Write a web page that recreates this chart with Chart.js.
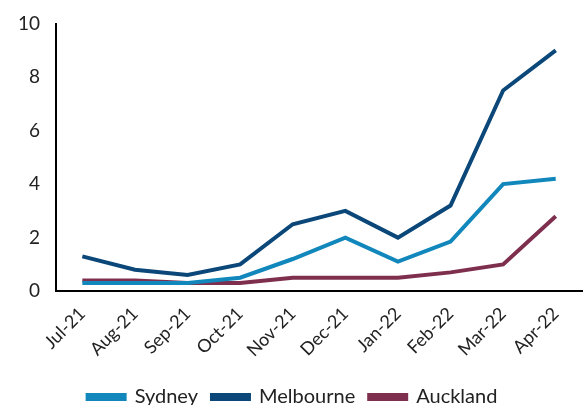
<!DOCTYPE html>
<html>
<head>
<meta charset="utf-8">
<script src="https://cdn.jsdelivr.net/npm/chart.js@4"></script>
<style>
  html, body { margin: 0; padding: 0; background: #fff; }
  #wrap { width: 583px; height: 405px; }
</style>
</head>
<body>
<div id="wrap"><canvas id="chart"></canvas></div>
<script>
// months
var months = ["Jul-21", "Aug-21", "Sep-21", "Oct-21", "Nov-21", "Dec-21", "Jan-22", "Feb-22", "Mar-22", "Apr-22"];
// series
var sydney = [0.3, 0.3, 0.3, 0.5, 1.2, 2.0, 1.1, 1.85, 4.0, 4.2];
var melbourne = [1.3, 0.8, 0.6, 1.0, 2.5, 3.0, 2.0, 3.2, 7.5, 9.0];
var auckland = [0.4, 0.4, 0.3, 0.3, 0.5, 0.5, 0.5, 0.7, 1.0, 2.8];
var yTicks = [0, 2, 4, 6, 8, 10];

Chart.defaults.font.family = "Lato, 'Open Sans', sans-serif";
Chart.defaults.color = "#222";

function line(label, data, colour) {
  return {
    label: label,
    data: data,
    borderColor: colour,
    backgroundColor: colour,
    borderWidth: 4,
    pointRadius: 0,
    tension: 0,
    fill: false
  };
}

var chart = new Chart(document.getElementById("chart"), {
  type: 'line',
  data: {
    labels: months,
    datasets: [
      line("Sydney", sydney, "#1187BC"),
      line("Melbourne", melbourne, "#0B4879"),
      line("Auckland", auckland, "#7F2F4E")
    ]
  },
  options: {
    responsive: true,
    maintainAspectRatio: false,
    animation: false,
    layout: { padding: { left: 2, right: 0, top: 0, bottom: -12 } },
    plugins: {
      legend: {
        position: 'bottom',
        labels: {
          boxWidth: 37,
          boxHeight: 4,
          padding: 14,
          font: { size: 20 }
        }
      },
      tooltip: { enabled: false }
    },
    scales: {
      x: {
        offset: true,
        grid: { display: false, drawTicks: false },
        border: { display: true, color: "#000", width: 2 },
        ticks: { maxRotation: 45, minRotation: 45, padding: 12, font: { size: 18 } }
      },
      y: {
        min: 0,
        max: 10,
        afterBuildTicks: function(axis) { axis.ticks = yTicks.map(function(v) { return { value: v }; }); },
        grid: { display: false, drawTicks: false },
        border: { display: true, color: "#000", width: 2 },
        ticks: { padding: 16, font: { size: 19, lineHeight: 0.8 } }
      }
    }
  }
});
</script>
</body>
</html>
